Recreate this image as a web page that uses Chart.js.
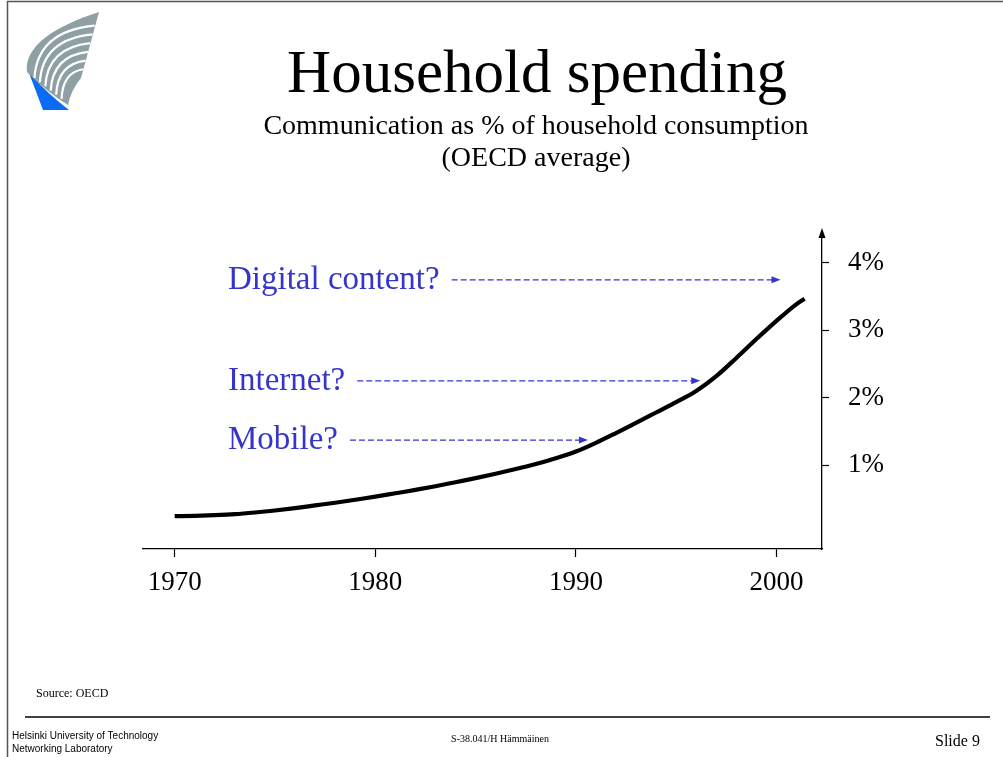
<!DOCTYPE html>
<html>
<head>
<meta charset="utf-8">
<script src="https://cdn.jsdelivr.net/npm/chart.js@4/dist/chart.umd.min.js"></script>
<style>
  html, body { margin: 0; padding: 0; background: #ffffff; }
  #wrap { position: relative; width: 1003px; height: 757px; }
  canvas { display: block; }
</style>
</head>
<body>
<div id="wrap"><canvas id="c" width="1003" height="757"></canvas></div>
<script>
// ---- data ----
const years = [1970,1971,1972,1973,1974,1975,1976,1977,1978,1979,1980,1981,1982,1983,1984,1985,
               1986,1987,1988,1989,1990,1991,1992,1993,1994,1995,1996,1997,1998,1999,2000,2001,2001.4];
const commShare = [0.24,0.245,0.255,0.27,0.295,0.325,0.36,0.40,0.44,0.485,0.53,0.58,0.63,0.685,0.745,0.805,
                   0.87,0.94,1.015,1.10,1.20,1.33,1.475,1.625,1.78,1.935,2.10,2.32,2.59,2.87,3.14,3.39,3.47];
const xTickYears = [1970, 1980, 1990, 2000];
const yTickValues = [1, 2, 3, 4];
const calloutLabels = ['Digital content?', 'Internet?', 'Mobile?'];
const calloutYears = [2000.2, 1996.2, 1990.6];
const calloutShares = [3.75, 2.25, 1.37];

const titleText = 'Household spending';
const subtitleLines = ['Communication as % of household consumption', '(OECD average)'];
const sourceText = 'Source: OECD';
const footerLeft = ['Helsinki University of Technology', 'Networking Laboratory'];
const footerCenter = 'S-38.041/H Hämmäinen';
const footerRight = 'Slide 9';

const SERIF = '"Liberation Serif", "DejaVu Serif", serif';
const SANS = '"Liberation Sans", Arial, sans-serif';
const BLUE = '#3535cc';

function drawLogo(ctx) {
  ctx.save();
  // blue triangle
  ctx.fillStyle = '#0a6cf5';
  ctx.beginPath();
  ctx.moveTo(29, 73);
  ctx.lineTo(43, 110);
  ctx.lineTo(69, 110);
  ctx.quadraticCurveTo(48, 94, 29, 73);
  ctx.closePath();
  ctx.fill();
  // grey fan
  ctx.fillStyle = '#8fa0a4';
  ctx.beginPath();
  ctx.moveTo(27, 72);
  ctx.bezierCurveTo(24, 46, 55, 26, 99, 12);
  ctx.lineTo(81, 78);
  ctx.quadraticCurveTo(71, 90, 68, 105);
  ctx.quadraticCurveTo(47, 92, 29, 74);
  ctx.closePath();
  ctx.fill();
  // white stripes
  ctx.strokeStyle = '#ffffff';
  ctx.lineWidth = 2.2;
  const n = 6;
  for (let i = 1; i <= n; i++) {
    const t = i / (n + 1);
    const sx = 29 + (67 - 29) * t, sy = 74 + (103 - 74) * t;
    const ex = 97 + (81 - 97) * t, ey = 17 + (78 - 17) * t;
    const cx = sx + (ex - sx) * 0.05, cy = ey + (sy - ey) * 0.1;
    ctx.beginPath();
    ctx.moveTo(sx, sy);
    ctx.quadraticCurveTo(cx, cy, ex, ey);
    ctx.stroke();
  }
  ctx.restore();
}

const slidePlugin = {
  id: 'slide',
  beforeDraw(chart) {
    const ctx = chart.ctx;
    ctx.save();
    ctx.fillStyle = '#ffffff';
    ctx.fillRect(0, 0, chart.width, chart.height);
    ctx.restore();
  },
  afterDraw(chart) {
    const ctx = chart.ctx;
    const xs = chart.scales.x, ys = chart.scales.y;
    ctx.save();
    // frame
    ctx.strokeStyle = '#555555';
    ctx.lineWidth = 1.5;
    ctx.beginPath();
    ctx.moveTo(7.5, 757); ctx.lineTo(7.5, 1.5); ctx.lineTo(1003, 1.5);
    ctx.stroke();
    // footer rule
    ctx.strokeStyle = '#000000';
    ctx.lineWidth = 1.5;
    ctx.beginPath();
    ctx.moveTo(25, 717); ctx.lineTo(990, 717);
    ctx.stroke();

    drawLogo(ctx);

    // titles
    ctx.fillStyle = '#000000';
    ctx.textAlign = 'center';
    ctx.textBaseline = 'alphabetic';
    ctx.font = '61px ' + SERIF;
    ctx.fillText(titleText, 537, 92);
    ctx.font = '28px ' + SERIF;
    ctx.fillText(subtitleLines[0], 536, 134);
    ctx.fillText(subtitleLines[1], 536, 166);

    // footer texts
    ctx.textAlign = 'left';
    ctx.font = '12px ' + SERIF;
    ctx.fillText(sourceText, 36, 697);
    ctx.font = '10px ' + SANS;
    ctx.fillText(footerLeft[0], 12, 739);
    ctx.fillText(footerLeft[1], 12, 752);
    ctx.textAlign = 'center';
    ctx.font = '10px ' + SERIF;
    ctx.fillText(footerCenter, 500, 742);
    ctx.textAlign = 'left';
    ctx.font = '16px ' + SERIF;
    ctx.fillText(footerRight, 935, 746);

    // y-axis arrowhead
    const ax = xs.right, ay = ys.top;
    ctx.fillStyle = '#000000';
    ctx.beginPath();
    ctx.moveTo(ax, ay - 4);
    ctx.lineTo(ax - 3.5, ay + 6);
    ctx.lineTo(ax + 3.5, ay + 6);
    ctx.closePath();
    ctx.fill();

    // callouts
    ctx.font = '33px ' + SERIF;
    ctx.textAlign = 'left';
    for (let i = 0; i < calloutLabels.length; i++) {
      const py = ys.getPixelForValue(calloutShares[i]);
      const tipX = xs.getPixelForValue(calloutYears[i]);
      ctx.fillStyle = BLUE;
      ctx.fillText(calloutLabels[i], 228, py + 9);
      const w = ctx.measureText(calloutLabels[i]).width;
      const startX = 228 + w + 12;
      ctx.strokeStyle = BLUE;
      ctx.lineWidth = 1.3;
      ctx.setLineDash([6, 3]);
      ctx.beginPath();
      ctx.moveTo(startX, py);
      ctx.lineTo(tipX - 8, py);
      ctx.stroke();
      ctx.setLineDash([]);
      ctx.beginPath();
      ctx.moveTo(tipX, py);
      ctx.lineTo(tipX - 9, py - 3.5);
      ctx.lineTo(tipX - 9, py + 3.5);
      ctx.closePath();
      ctx.fill();
    }
    ctx.restore();
  }
};

new Chart(document.getElementById('c'), {
  type: 'line',
  data: {
    datasets: [{
      label: 'Communication share',
      data: years.map((y, i) => ({ x: y, y: commShare[i] })),
      borderColor: '#000000',
      borderWidth: 4.2,
      pointRadius: 0,
      cubicInterpolationMode: 'monotone',
      fill: false
    }]
  },
  options: {
    responsive: false,
    animation: false,
    devicePixelRatio: 1,
    layout: { padding: { left: 143, top: 232, right: 0, bottom: 0 } },
    plugins: { legend: { display: false }, tooltip: { enabled: false }, title: { display: false } },
    scales: {
      x: {
        type: 'linear',
        position: 'bottom',
        min: 1968.42,
        max: 2002.27,
        afterBuildTicks: (s) => { s.ticks = xTickYears.map(v => ({ value: v })); },
        afterFit: (s) => { s.height = 208; },
        ticks: {
          autoSkip: false, maxRotation: 0, minRotation: 0,
          color: '#000000', padding: 10,
          font: { family: SERIF, size: 27 },
          callback: (v) => String(v)
        },
        grid: { display: true, drawOnChartArea: false, drawTicks: true, tickLength: 8, tickColor: '#000000', tickWidth: 1.2 },
        border: { display: true, color: '#000000', width: 1.3 }
      },
      y: {
        type: 'linear',
        position: 'right',
        min: -0.247,
        max: 4.46,
        afterBuildTicks: (s) => { s.ticks = yTickValues.map(v => ({ value: v })); },
        afterFit: (s) => { s.width = 181; },
        ticks: {
          color: '#000000', padding: 19,
          font: { family: SERIF, size: 27 },
          callback: (v) => v + '%'
        },
        grid: { display: true, drawOnChartArea: false, drawTicks: true, tickLength: 7, tickColor: '#000000', tickWidth: 1.2 },
        border: { display: true, color: '#000000', width: 1.3 }
      }
    }
  },
  plugins: [slidePlugin]
});
</script>
</body>
</html>
